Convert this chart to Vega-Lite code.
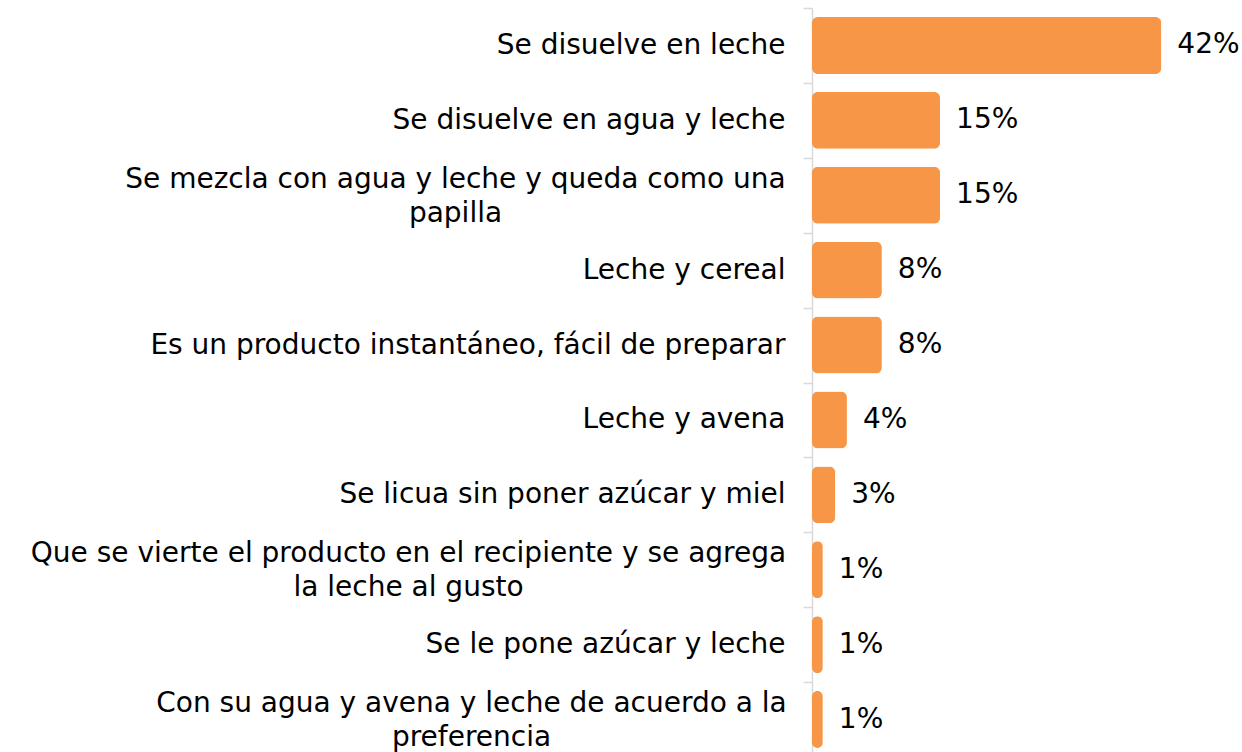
{
  "$schema": "https://vega.github.io/schema/vega-lite/v6.json",
  "autosize": "none",
  "width": 430,
  "height": 749,
  "padding": {"left": 812, "top": 8, "right": 0, "bottom": 0},
  "background": "white",
  "config": {"view": {"stroke": null}, "font": "DejaVu Sans"},
  "data": {
    "values": [
      {"cat": "Se disuelve en leche", "pct": 42.0, "label": "42%"},
      {"cat": "Se disuelve en agua y leche", "pct": 15.4, "label": "15%"},
      {"cat": "Se mezcla con agua y leche y queda como una|papilla", "pct": 15.4, "label": "15%"},
      {"cat": "Leche y cereal", "pct": 8.4, "label": "8%"},
      {"cat": "Es un producto instantáneo, fácil de preparar", "pct": 8.4, "label": "8%"},
      {"cat": "Leche y avena", "pct": 4.2, "label": "4%"},
      {"cat": "Se licua sin poner azúcar y miel", "pct": 2.8, "label": "3%"},
      {"cat": "Que se vierte el producto en el recipiente y se agrega|la leche al gusto", "pct": 1.3, "label": "1%"},
      {"cat": "Se le pone azúcar y leche", "pct": 1.3, "label": "1%"},
      {"cat": "Con su agua y avena y leche de acuerdo a la|preferencia", "pct": 1.3, "label": "1%"}
    ]
  },
  "encoding": {
    "y": {
      "field": "cat", "type": "nominal", "sort": null,
      "scale": {"paddingInner": 0, "paddingOuter": 0},
      "axis": {
        "title": null,
        "labelExpr": "isValid(datum.value) ? split(datum.value, '|') : ''",
        "labelFontSize": 28,
        "labelColor": "#000000",
        "labelLineHeight": 34,
        "labelLimit": 900,
        "labelAlign": {"condition": {"test": "isValid(datum.value) && indexof(datum.value, '|') >= 0", "value": "center"}, "value": "right"},
        "labelPadding": {"condition": [
          {"test": "isValid(datum.value) && indexof(datum.value, 'Se mezcla') >= 0", "value": 348},
          {"test": "isValid(datum.value) && indexof(datum.value, 'Que se vierte') >= 0", "value": 395},
          {"test": "isValid(datum.value) && indexof(datum.value, 'Con su agua') >= 0", "value": 332}
        ], "value": 18},
        "labelOffset": {"condition": {"test": "isValid(datum.value) && indexof(datum.value, '|') >= 0", "value": -16}, "value": 0},
        "domainColor": "#d9d9d9",
        "domainWidth": 1.5,
        "tickColor": "#d9d9d9",
        "tickWidth": 1.5,
        "tickSize": 9,
        "tickBand": "extent",
        "grid": false
      }
    }
  },
  "layer": [
    {
      "mark": {"type": "bar", "color": "#F79646", "cornerRadius": 6, "height": {"band": 0.76}},
      "encoding": {
        "x": {"field": "pct", "type": "quantitative", "scale": {"domain": [0, 51.7], "nice": false}, "axis": null}
      }
    },
    {
      "mark": {"type": "text", "align": "left", "dx": 16, "fontSize": 28, "color": "#000000"},
      "encoding": {
        "x": {"field": "pct", "type": "quantitative"},
        "text": {"field": "label"}
      }
    }
  ]
}
